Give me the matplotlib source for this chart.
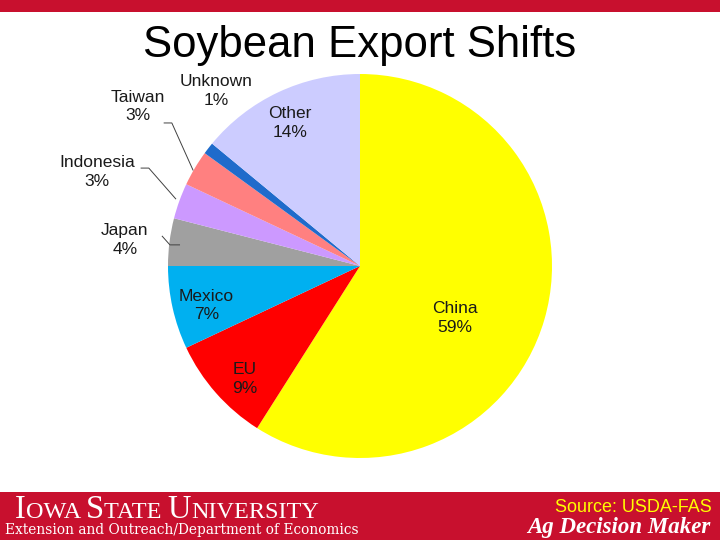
import matplotlib
matplotlib.use("Agg")
import matplotlib.pyplot as plt
import numpy as np
from matplotlib.patches import Rectangle

plt.rcParams['font.family'] = ['Liberation Sans', 'DejaVu Sans']

countries = ["China", "EU", "Mexico", "Japan", "Indonesia", "Taiwan", "Unknown", "Other"]
shares = [59, 9, 7, 4, 3, 3, 1, 14]
colors = ["#FFFF00", "#FF0000", "#00B0F0", "#A0A0A0", "#CC99FF", "#FF8080", "#1F6BCB", "#CCCCFF"]

title = "Soybean Export Shifts"
source = "Source: USDA-FAS"

# label positions in pie-axis units (text centers), and optional leader lines
label_pos = {
    "China": (0.495, -0.27),
    "EU": (-0.60, -0.59),
    "Mexico": (-0.80, -0.205),
    "Japan": (-1.225, 0.135),
    "Indonesia": (-1.37, 0.49),
    "Taiwan": (-1.155, 0.83),
    "Unknown": (-0.75, 0.91),
    "Other": (-0.365, 0.745),
}
leaders = {
    "Japan": [(-1.03, 0.155), (-0.99, 0.11), (-0.94, 0.11)],
    "Indonesia": [(-1.14, 0.51), (-1.10, 0.51), (-0.96, 0.35)],
    "Taiwan": [(-1.02, 0.745), (-0.98, 0.745), (-0.87, 0.50)],
}

RED = "#C8102E"
fig = plt.figure(figsize=(7.2, 5.4), dpi=100)
bg = fig.add_axes([0, 0, 1, 1])
bg.set_xlim(0, 720)
bg.set_ylim(540, 0)
bg.axis("off")
bg.add_patch(Rectangle((0, 0), 720, 12, color=RED, lw=0))
bg.add_patch(Rectangle((0, 492), 720, 48, color=RED, lw=0))
bg.text(360, 45, title, ha="center", va="center", fontsize=31.5, color="black")

# banner texts
r = fig.canvas.get_renderer()
x = 15
parts = [("I", 23.5), ("OWA ", 17.5), ("S", 23.5), ("TATE ", 17.5), ("U", 23.5), ("NIVERSITY", 17.5)]
for s, fs in parts:
    t = bg.text(x, 518, s, ha="left", va="baseline", fontsize=fs, color="white",
                family="Liberation Serif")
    bb = t.get_window_extent(renderer=r)
    x += bb.width
bg.text(5, 530, "Extension and Outreach/Department of Economics", ha="left", va="center",
        fontsize=9.9, color="white", family="DejaVu Serif")
bg.text(712, 507, source, ha="right", va="center", fontsize=13, color="#FFFF00")
bg.text(710, 527, "Ag Decision Maker", ha="right", va="center", fontsize=16.5,
        color="white", family="Liberation Serif", fontweight="bold", style="italic")

# pie
cx, cy, rad = 360, 266, 192
ax = fig.add_axes([(cx - rad) / 720, (540 - cy - rad) / 540, 2 * rad / 720, 2 * rad / 540])
ax.pie(shares, colors=colors, startangle=90, counterclock=False, radius=1,
       wedgeprops=dict(linewidth=0))
ax.set_xlim(-1, 1)
ax.set_ylim(-1, 1)
ax.set_aspect("auto")
for c, v in zip(countries, shares):
    px, py = label_pos[c]
    ax.text(px, py, f"{c}\n{v}%", ha="center", va="center", fontsize=12.5,
            color="#1a1a1a", linespacing=1.3, clip_on=False)
    if c in leaders:
        xs, ys = zip(*leaders[c])
        ax.plot(xs, ys, color="#404040", lw=0.7, clip_on=False)

fig.savefig("out.png", dpi=100)
